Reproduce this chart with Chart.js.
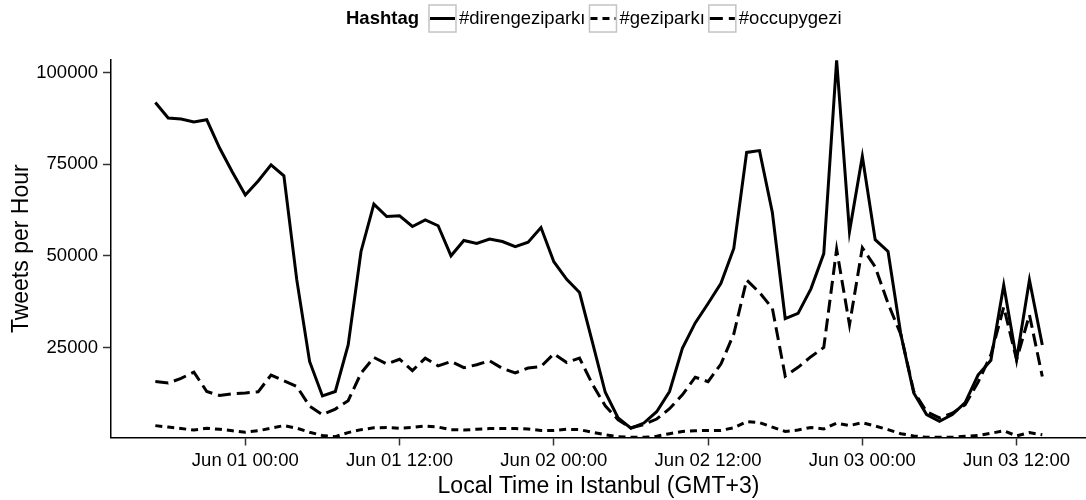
<!DOCTYPE html>
<html>
<head>
<meta charset="utf-8">
<script src="https://cdn.jsdelivr.net/npm/chart.js@4.4.1/dist/chart.umd.min.js"></script>
<style>
  html, body { margin: 0; padding: 0; background: #fff; }
  #wrap { width: 1086px; height: 500px; }
</style>
</head>
<body>
<div id="wrap"><canvas id="chart" width="1086" height="500"></canvas></div>
<script>
// hours relative to Jun 01 00:00 (Istanbul time)
const hours = [
  -7, -6, -5, -4, -3, -2, -1, 0,
  1, 2, 3, 4, 5, 6, 7, 8, 9, 10,
  11, 12, 13, 14, 15, 16, 17, 18, 19, 20,
  21, 22, 23, 24, 25, 26, 27, 28, 29, 30,
  31, 32, 33, 34, 35, 36, 37, 38, 39, 40,
  41, 42, 43, 44, 45, 46, 47, 48, 49, 50,
  51, 52, 53, 54, 55, 56, 57, 58, 59, 60, 61, 62
];

const direngeziparki = [
  91800, 87600, 87300, 86500, 87100, 79400, 72800, 66600,
  70400, 74800, 71800, 43500, 21200, 11800, 13000, 25700, 51200, 64100,
  60700, 60900, 58000, 59800, 58200, 50000, 54200, 53400, 54600, 53900,
  52500, 53700, 57700, 48400, 43600, 40000, 26500, 12800, 5800, 3000,
  4400, 7500, 13000, 24800, 31700, 37000, 42500, 52000, 78200, 78700,
  61800, 32900, 34300, 41000, 50600, 103300, 56600, 77100, 54400, 51200,
  28500, 12600, 6700, 4900, 6700, 10000, 17500, 21500, 42000, 21700, 43400, 25700
];

const geziparki = [
  3700, 3300, 2900, 2500, 3000, 2700, 2300, 1900,
  2300, 3000, 3700, 3000, 1900, 1000, 700, 1800, 2600, 3100,
  3200, 3000, 3200, 3600, 3300, 2600, 2500, 2700, 2900, 2900,
  2900, 2800, 2400, 2400, 2700, 2600, 1900, 1200, 700, 500,
  500, 800, 1500, 2100, 2300, 2400, 2400, 3100, 4800, 4500,
  3300, 2100, 2500, 3200, 2800, 4400, 3700, 4500, 3600, 2600,
  1500, 900, 500, 500, 500, 800, 1000, 1600, 2300, 900, 1800, 1200
];

const occupygezi = [
  15700, 15300, 16600, 18300, 13000, 11900, 12400, 12600,
  12900, 17500, 15900, 14400, 9000, 6700, 8200, 10500, 18000, 22300,
  20500, 21800, 18700, 22100, 20000, 21200, 19500, 20300, 21400, 19300,
  18100, 19400, 19800, 23300, 20900, 22100, 15000, 9100, 5300, 3100,
  4000, 5500, 8300, 12100, 16900, 15700, 20500, 28700, 43400, 40000,
  35700, 17200, 19600, 22500, 25000, 51800, 31200, 52200, 47000, 37000,
  28500, 13000, 7500, 5800, 7100, 9400, 15500, 23000, 36000, 21700, 33900, 17100
];

const xTickHours = [0, 12, 24, 36, 48, 60];
const xTickLabels = ["Jun 01 00:00", "Jun 01 12:00", "Jun 02 00:00", "Jun 02 12:00", "Jun 03 00:00", "Jun 03 12:00"];
const yTicks = [25000, 50000, 75000, 100000];
const legendTitle = "Hashtag";

const FONT = '"Liberation Sans", Arial, Helvetica, sans-serif';
Chart.defaults.font.family = FONT;
Chart.defaults.color = "#000";

function toPoints(values) {
  return values.map((v, i) => ({ x: hours[i], y: v }));
}

// ggplot-style legend drawn on the canvas: bold title then keys in one row
const hashtagLegend = {
  id: "hashtagLegend",
  afterDraw(chart) {
    const ctx = chart.ctx;
    const y = 18.5;
    let x = 346;
    ctx.save();
    ctx.textBaseline = "middle";
    ctx.fillStyle = "#000";
    ctx.font = "bold 18.5px " + FONT;
    ctx.fillText(legendTitle, x, y);
    x += ctx.measureText(legendTitle).width + 10;
    ctx.font = "18.5px " + FONT;
    chart.data.datasets.forEach((ds) => {
      ctx.setLineDash([]);
      ctx.fillStyle = "#fff";
      ctx.fillRect(x, y - 13.5, 27, 27);
      ctx.strokeStyle = "#c4c4c4";
      ctx.lineWidth = 1.5;
      ctx.strokeRect(x, y - 13.5, 27, 27);
      ctx.strokeStyle = "#000";
      ctx.lineWidth = 3;
      ctx.setLineDash(ds.borderDash || []);
      ctx.beginPath();
      ctx.moveTo(x + 1, y);
      ctx.lineTo(x + 26, y);
      ctx.stroke();
      ctx.setLineDash([]);
      x += 30;
      ctx.fillStyle = "#000";
      ctx.fillText(ds.label, x, y);
      x += ctx.measureText(ds.label).width + 4;
    });
    ctx.restore();
  },
};

const ctx = document.getElementById("chart").getContext("2d");
const myChart = new Chart(ctx, {
  type: "line",
  data: {
    datasets: [
      {
        label: "#direngeziparkı",
        data: toPoints(direngeziparki),
        borderColor: "#000",
        borderWidth: 3,
        borderDash: [],
        pointRadius: 0,
        tension: 0,
        fill: false,
      },
      {
        label: "#geziparkı",
        data: toPoints(geziparki),
        borderColor: "#000",
        borderWidth: 3,
        borderDash: [7, 5],
        pointRadius: 0,
        tension: 0,
        fill: false,
      },
      {
        label: "#occupygezi",
        data: toPoints(occupygezi),
        borderColor: "#000",
        borderWidth: 3,
        borderDash: [13, 6],
        pointRadius: 0,
        tension: 0,
        fill: false,
      },
    ],
  },
  options: {
    responsive: false,
    animation: false,
    devicePixelRatio: 1,
    layout: { padding: { top: 60, right: 0, bottom: 0, left: 0 } },
    plugins: {
      legend: { display: false },
      tooltip: { enabled: false },
    },
    scales: {
      x: {
        type: "linear",
        min: -10.45,
        max: 65.4,
        afterBuildTicks: (scale) => {
          scale.ticks = xTickHours.map((v) => ({ value: v }));
        },
        afterFit: (scale) => {
          scale.height = 62.5;
        },
        ticks: {
          autoSkip: false,
          maxRotation: 0,
          padding: 4,
          color: "#000",
          font: { size: 18.5 },
          callback: (v) => {
            const i = xTickHours.indexOf(v);
            return i >= 0 ? xTickLabels[i] : "";
          },
        },
        grid: {
          display: true,
          drawOnChartArea: false,
          drawTicks: true,
          tickLength: 8,
          tickWidth: 1.5,
          tickColor: "#333",
        },
        border: { display: true, color: "#000", width: 1.5 },
        title: {
          display: true,
          text: "Local Time in Istanbul (GMT+3)",
          color: "#000",
          font: { size: 23 },
          padding: { top: 0, bottom: 0 },
        },
      },
      y: {
        type: "linear",
        min: 460,
        max: 103400,
        afterBuildTicks: (scale) => {
          scale.ticks = yTicks.map((v) => ({ value: v }));
        },
        afterFit: (scale) => {
          scale.width = 111;
        },
        ticks: {
          padding: 5,
          color: "#000",
          font: { size: 18.5 },
          callback: (v) => String(v),
        },
        grid: {
          display: true,
          drawOnChartArea: false,
          drawTicks: true,
          tickLength: 8,
          tickWidth: 1.5,
          tickColor: "#333",
        },
        border: { display: true, color: "#000", width: 1.5 },
        title: {
          display: true,
          text: "Tweets per Hour",
          color: "#000",
          font: { size: 23 },
          padding: { top: 8, bottom: 0 },
        },
      },
    },
  },
  plugins: [hashtagLegend],
});
</script>
</body>
</html>
